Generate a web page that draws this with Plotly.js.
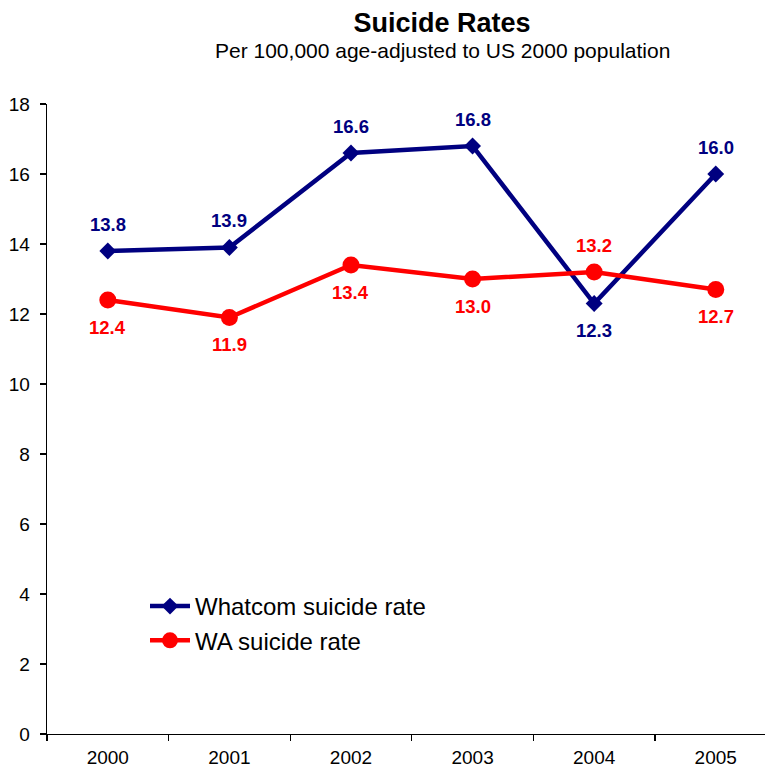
<!DOCTYPE html>
<html>
<head>
<meta charset="utf-8">
<script src="https://cdn.plot.ly/plotly-3.0.1.min.js"></script>
<style>
  html, body { margin: 0; padding: 0; background: #fff; overflow: hidden; }
  #chart { width: 765px; height: 772px; }
</style>
</head>
<body>
<div id="chart"></div>
<script>
// Age-adjusted suicide rates per 100,000
const years = ['2000', '2001', '2002', '2003', '2004', '2005'];
const whatcomRate = [13.8, 13.9, 16.6, 16.8, 12.3, 16.0];
const waRate = [12.4, 11.9, 13.4, 13.0, 13.2, 12.7];
const yTicks = [0, 2, 4, 6, 8, 10, 12, 14, 16, 18];

// Where each value label sits relative to its point (+1 above, -1 below)
const whatcomLabelSide = [1, 1, 1, 1, -1, 1];
const waLabelSide = [-1, -1, -1, -1, 1, -1];

const FONT = 'Liberation Sans, Arial, sans-serif';
const NAVY = '#000080';
const RED = '#FF0000';

// plot area in pixels (used to turn pixel spots into paper fractions)
const W = 765, H = 772;
const M = { l: 47, r: 0, t: 104, b: 38 };
const PW = W - M.l - M.r, PH = H - M.t - M.b;
const px = x => (x - M.l) / PW;
const py = y => (H - M.b - y) / PH;

const xIdx = years.map((_, i) => i);

const traces = [
  {
    x: xIdx, y: whatcomRate, name: 'Whatcom suicide rate',
    mode: 'lines+markers', type: 'scatter',
    line: { color: NAVY, width: 4.5 },
    marker: { symbol: 'diamond', size: 13, color: NAVY }
  },
  {
    x: xIdx, y: waRate, name: 'WA suicide rate',
    mode: 'lines+markers', type: 'scatter',
    line: { color: RED, width: 4.5 },
    marker: { symbol: 'circle', size: 17, color: RED }
  }
];

function valueLabels(values, sides, color) {
  return values.map((v, i) => ({
    x: i, y: v, xref: 'x', yref: 'y',
    text: '<b>' + v.toFixed(1) + '</b>', showarrow: false,
    yshift: 27 * sides[i],
    font: { family: FONT, size: 18.5, color: color }
  }));
}

const annotations = [
  ...valueLabels(whatcomRate, whatcomLabelSide, NAVY),
  ...valueLabels(waRate, waLabelSide, RED),
  {
    text: 'Per 100,000 age-adjusted to US 2000 population',
    xref: 'paper', yref: 'paper',
    x: px(442), y: py(50),
    xanchor: 'center', yanchor: 'middle', showarrow: false,
    font: { family: FONT, size: 21, color: '#000' }
  }
];

const layout = {
  width: W, height: H,
  paper_bgcolor: '#fff', plot_bgcolor: '#fff',
  margin: { l: M.l, r: M.r, t: M.t, b: M.b, autoexpand: false },
  font: { family: FONT, color: '#000' },
  title: {
    text: '<b>Suicide Rates</b>',
    xref: 'container', yref: 'container',
    x: 442 / W, y: 1 - 23 / H,
    xanchor: 'center', yanchor: 'middle',
    font: { family: FONT, size: 27, color: '#000' }
  },
  xaxis: {
    range: [-0.5, 5.405],
    tickmode: 'array', tickvals: xIdx, ticktext: years,
    ticks: '', showgrid: false, zeroline: false,
    showline: true, linecolor: '#000', linewidth: 1.3,
    tickfont: { family: FONT, size: 19, color: '#000' },
    ticklabelstandoff: 6,
    minor: { tickmode: 'linear', tick0: -0.5, dtick: 1, ticks: 'outside', ticklen: 6, tickcolor: '#000', tickwidth: 1.3, showgrid: false },
    automargin: false,
    fixedrange: true
  },
  yaxis: {
    range: [0, 18],
    tickmode: 'array', tickvals: yTicks,
    ticks: 'outside', ticklen: 6, tickcolor: '#000', tickwidth: 1.3,
    showgrid: false, zeroline: false,
    showline: true, linecolor: '#000', linewidth: 1.3,
    tickfont: { family: FONT, size: 19, color: '#000' },
    ticklabelstandoff: 6,
    automargin: false,
    fixedrange: true
  },
  showlegend: true,
  legend: {
    xref: 'paper', yref: 'paper',
    x: px(145), y: py(584),
    xanchor: 'left', yanchor: 'top',
    bgcolor: 'rgba(0,0,0,0)',
    font: { family: FONT, size: 24, color: '#000' },
    itemwidth: 40
  },
  annotations: annotations
};

Plotly.newPlot('chart', traces, layout, { displayModeBar: false, staticPlot: true });
</script>
</body>
</html>
